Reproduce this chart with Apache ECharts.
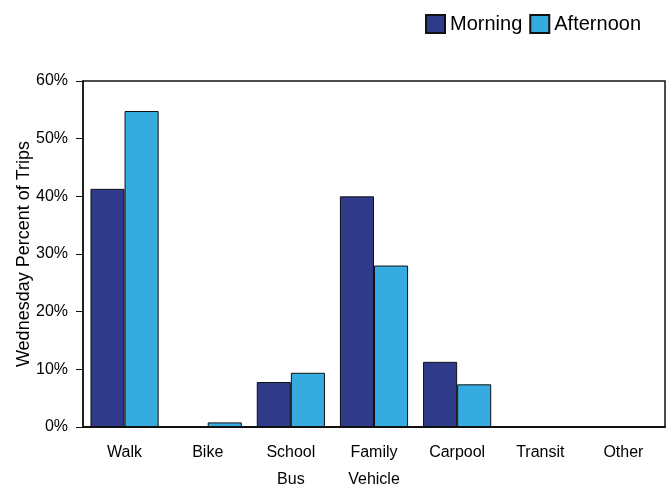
<!DOCTYPE html>
<html><head><meta charset="utf-8">
<script src="https://cdn.jsdelivr.net/npm/echarts@6/dist/echarts.min.js"></script>
<style>html,body{margin:0;padding:0;background:#fff}#c{width:672px;height:488px}</style>
</head><body><div id="c"></div>
<script>
const categories = ['Walk', 'Bike', 'School\nBus', 'Family\nVehicle', 'Carpool', 'Transit', 'Other'];
const morning = [41.3, 0, 7.8, 40.0, 11.3, 0, 0];
const afternoon = [54.8, 0.8, 9.4, 28.0, 7.4, 0, 0];
const yTicks = [0, 10, 20, 30, 40, 50, 60];

const chart = echarts.init(document.getElementById('c'));
const font = 'Liberation Sans, Arial, sans-serif';
chart.setOption({
  animation: false,
  legend: {
    right: 26, top: 9, itemWidth: 19, itemHeight: 18, itemGap: 7,
    icon: 'rect',
    textStyle: { fontFamily: font, fontSize: 20, color: '#000' },
    data: ['Morning', 'Afternoon']
  },
  grid: { left: 83, right: 7, top: 81, bottom: 61, show: true, borderColor: '#111', borderWidth: 1.5,
    outerBoundsMode: 'none', containLabel: false },
  xAxis: {
    type: 'category', data: categories,
    axisLine: { lineStyle: { color: '#111', width: 2 } },
    axisTick: { alignWithLabel: true, length: 6, lineStyle: { color: '#111', width: 2 } },
    axisLabel: { fontFamily: font, fontSize: 16, color: '#000', margin: 12, lineHeight: 27 }
  },
  yAxis: {
    type: 'value', min: 0, max: 60, interval: 10,
    name: 'Wednesday Percent of Trips', nameLocation: 'middle', nameGap: 50,
    nameMoveOverlap: false,
    nameTextStyle: { fontFamily: font, fontSize: 18, color: '#000' },
    splitLine: { show: false },
    axisLine: { show: true, lineStyle: { color: '#111', width: 1.5 } },
    axisTick: { show: true, length: 7, lineStyle: { color: '#111' } },
    axisLabel: { fontFamily: font, fontSize: 16, color: '#000', margin: 15,
      formatter: v => yTicks.includes(v) ? v + '%' : '' }
  },
  series: [
    { name: 'Morning', type: 'bar', data: morning, barGap: '0%', barCategoryGap: '18%',
      itemStyle: { color: '#2f3b8a', borderColor: '#111', borderWidth: 1 } },
    { name: 'Afternoon', type: 'bar', data: afternoon,
      itemStyle: { color: '#35abe0', borderColor: '#111', borderWidth: 1 } }
  ]
});
</script></body></html>
